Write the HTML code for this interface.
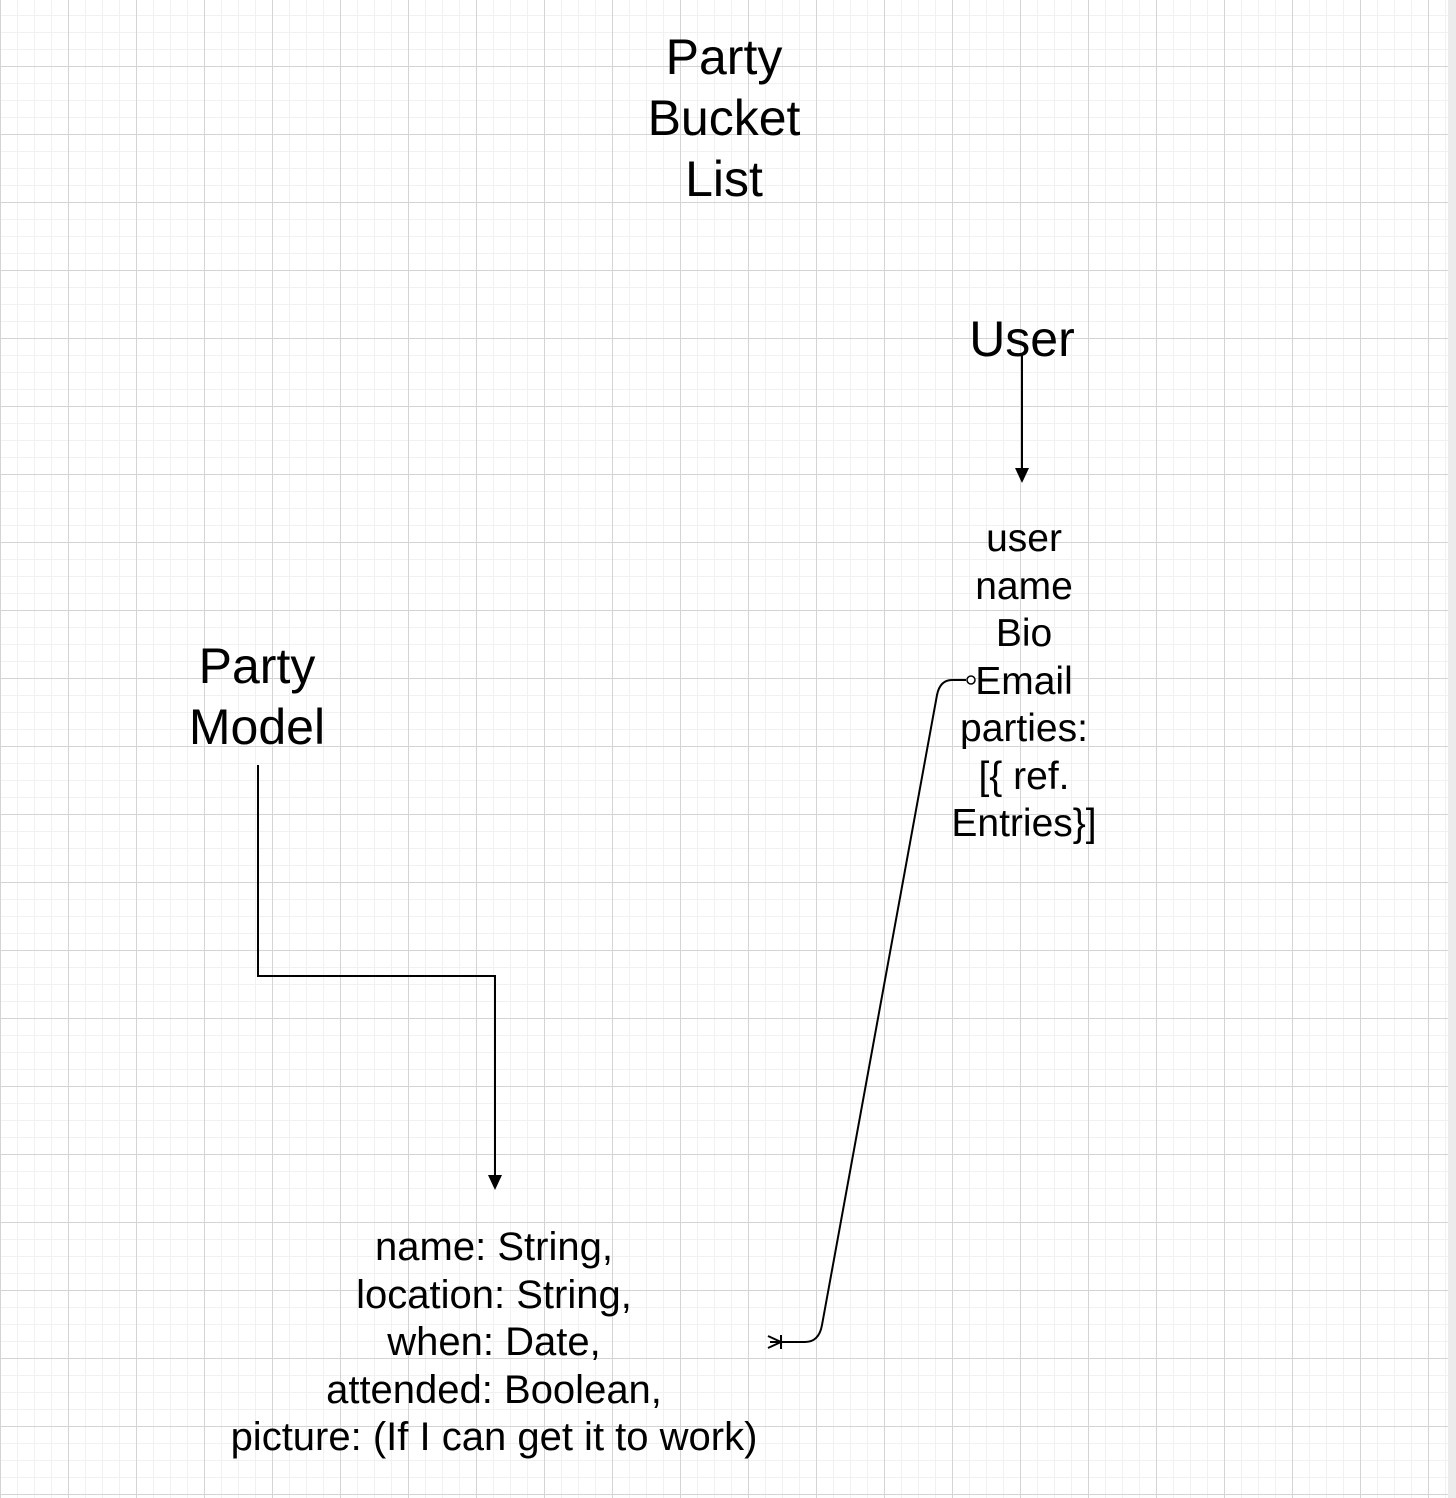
<!DOCTYPE html>
<html><head><meta charset="utf-8"><style>
html,body{margin:0;padding:0}
body{width:1456px;height:1498px;position:relative;overflow:hidden;background:#fff;font-family:"Liberation Sans",Arial,sans-serif;color:#000}
.grid{position:absolute;left:0;top:0;width:1448px;height:1498px;
background-image:
linear-gradient(#d4d4d4 1px,transparent 1px),
linear-gradient(90deg,#d4d4d4 1px,transparent 1px),
linear-gradient(#f1f1f1 1px,transparent 1px),
linear-gradient(90deg,#f1f1f1 1px,transparent 1px);
background-size:68px 68px,68px 68px,17px 17px,17px 17px;
background-position:0 -2px,0 0,0 -2px,0 0;}
.edge{position:absolute;left:1448px;top:0;width:8px;height:1498px;background:#ececec}
.t{position:absolute;text-align:center;white-space:nowrap}
.big{font-size:50px;line-height:61px}
.mid{font-size:39px;line-height:47.5px}
.mid2{font-size:40px;line-height:47.5px}
</style></head><body>
<div class="grid"></div><div class="edge"></div>
<div class="t big" style="left:624px;width:200px;top:27px">Party<br>Bucket<br>List</div>
<div class="t big" style="left:922px;width:200px;top:309px">User</div>
<div class="t big" style="left:157px;width:200px;top:636px">Party<br>Model</div>
<div class="t mid" style="left:924px;width:200px;top:515px">user<br>name<br>Bio<br>Email<br>parties:<br>[{ ref.<br>Entries}]</div>
<div class="t mid2" style="left:194px;width:600px;top:1224px">name: String,<br>location: String,<br>when: Date,<br>attended: Boolean,<br>picture: (If I can get it to work)</div>
<svg width="1456" height="1498" style="position:absolute;left:0;top:0" fill="none" stroke="#000" stroke-width="2">
<polyline points="258,765 258,976 495,976 495,1180"/>
<path d="M488,1175 L495,1190 L502,1175 Z" fill="#000" stroke="none"/>
<line x1="1022" y1="355" x2="1022" y2="473"/>
<path d="M1015,468 L1022,483 L1029,468 Z" fill="#000" stroke="none"/>
<path d="M966,680 L952,680 Q940,680 937,695 L822,1325 Q819,1342 805,1342 L770,1342"/>
<circle cx="971" cy="680" r="4" fill="#fff" stroke-width="1.5"/>
<line x1="781" y1="1335" x2="781" y2="1349"/>
<line x1="768" y1="1336" x2="781" y2="1342"/>
<line x1="768" y1="1348" x2="781" y2="1342"/>
</svg>
</body></html>
